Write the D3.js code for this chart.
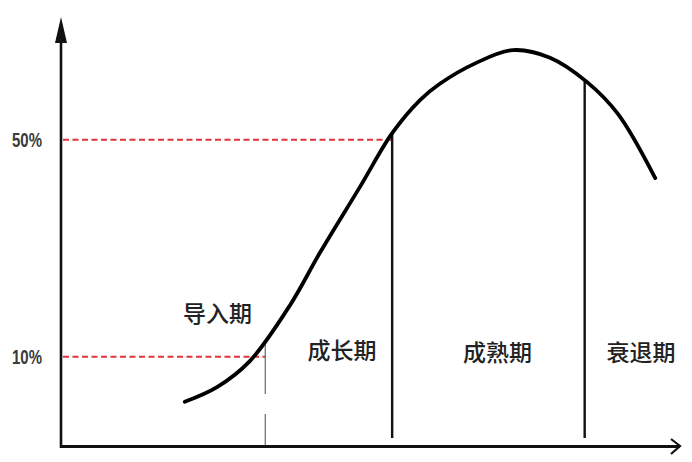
<!DOCTYPE html>
<html><head><meta charset="utf-8">
<script src="https://cdn.jsdelivr.net/npm/d3@7"></script>
<style>
html,body{margin:0;padding:0;background:#fff;}
svg{display:block;}
</style></head>
<body>
<svg id="chart" width="692" height="462"></svg>
<script>
// ---- data ----
const salesX = [20.0, 25.2, 30.5, 37.0, 41.8, 48.3, 53.5, 58.0, 61.2, 67.0, 73.0, 79.0, 85.0, 90.0, 96.0];
const salesY = [1.7, 4.4, 9.2, 19.5, 29.1, 41.3, 51.2, 57.3, 60.3, 64.1, 66.5, 65.1, 60.6, 54.7, 42.9];
const stageNames = ["导入期", "成长期", "成熟期", "衰退期"];
const stageBounds = [33.0, 53.5, 84.6];
const tickValues = [10, 50];
const tickLabels = ["10%", "50%"];

const svg = d3.select("#chart");
const x = d3.scaleLinear().domain([0, 100]).range([61, 680]);
const y = d3.scaleLinear().domain([-6.45, 72.6]).range([446, 17]);

const pts = salesX.map((v, i) => [v, salesY[i]]);
const line = d3.line().x(d => x(d[0])).y(d => y(d[1])).curve(d3.curveCatmullRom.alpha(0.5));
const curveAt = xv => {
  const path = svg.append("path").attr("d", line(pts)).attr("fill", "none").attr("stroke", "none");
  const node = path.node(); const L = node.getTotalLength();
  let lo = 0, hi = L; const target = x(xv);
  for (let k = 0; k < 40; k++) { const m = (lo + hi) / 2; if (node.getPointAtLength(m).x < target) lo = m; else hi = m; }
  const py = node.getPointAtLength(lo).y; path.remove(); return py;
};

// red dashed reference lines
const refEnds = [stageBounds[0], stageBounds[1]];
tickValues.forEach((t, i) => {
  svg.append("line")
    .attr("x1", x(0) + 2).attr("x2", x(refEnds[i]))
    .attr("y1", y(t)).attr("y2", y(t))
    .attr("stroke", "#e0333a").attr("stroke-width", 2)
    .attr("stroke-dasharray", "6,3.5");
});

// stage boundaries
const b0 = x(stageBounds[0]);
const c0 = curveAt(stageBounds[0]);
svg.append("line").attr("x1", b0).attr("x2", b0).attr("y1", c0).attr("y2", 394)
  .attr("stroke", "#666").attr("stroke-width", 1.2);
svg.append("line").attr("x1", b0).attr("x2", b0).attr("y1", 414).attr("y2", 446)
  .attr("stroke", "#666").attr("stroke-width", 1.2);
[stageBounds[1], stageBounds[2]].forEach(b => {
  svg.append("line").attr("x1", x(b)).attr("x2", x(b))
    .attr("y1", curveAt(b)).attr("y2", 438)
    .attr("stroke", "#111").attr("stroke-width", 2.4);
});

// sales curve
svg.append("path").attr("d", line(pts))
  .attr("fill", "none").attr("stroke", "#000").attr("stroke-width", 3.8)
  .attr("stroke-linecap", "round");

// y axis
const yAxis = d3.axisLeft(y).tickValues(tickValues).tickSize(0).tickPadding(19)
  .tickFormat((d, i) => tickLabels[i]);
const gy = svg.append("g").attr("transform", `translate(${x(0)},0)`).call(yAxis);
gy.select(".domain").remove();
gy.selectAll("text")
  .attr("font-family", "'Liberation Sans Narrow','Liberation Sans',sans-serif")
  .attr("font-size", 20).attr("font-weight", "bold").attr("fill", "#3a3a3a")
  .attr("textLength", 30).attr("lengthAdjust", "spacingAndGlyphs")
  .attr("dy", "0.36em");
svg.append("line").attr("x1", x(0)).attr("x2", x(0)).attr("y1", 40).attr("y2", 448)
  .attr("stroke", "#111").attr("stroke-width", 2.6);
svg.append("path").attr("d", `M${x(0)},17 L${x(0) - 6},43 L${x(0) + 6},43 Z`).attr("fill", "#111");

// x axis
const xAxis = d3.axisBottom(x).tickValues([]).tickSizeOuter(0);
const gx = svg.append("g").attr("transform", `translate(0,${y(-6.45)})`).call(xAxis);
gx.select(".domain").attr("stroke", "#111").attr("stroke-width", 3.2)
  .attr("d", `M${x(0) - 1},0.5H${x(100)}`);
svg.append("path").attr("d", `M${x(100) - 9},${y(-6.45) - 7} L${x(100)},${y(-6.45)} L${x(100) - 9},${y(-6.45) + 8}`)
  .attr("fill", "none").attr("stroke", "#111").attr("stroke-width", 2.2);

// stage labels
const labelX = [25.3, 45.4, 70.5, 93.7];
const labelY = [18.2, 11.4, 11.0, 11.0];
stageNames.forEach((n, i) => {
  svg.append("text").attr("x", x(labelX[i])).attr("y", y(labelY[i]))
    .attr("text-anchor", "middle").attr("dominant-baseline", "central")
    .attr("font-family", "'Noto Sans CJK SC',sans-serif").attr("font-weight", 500)
    .attr("font-size", 23).attr("fill", "#222").text(n);
});
</script>
</body></html>
